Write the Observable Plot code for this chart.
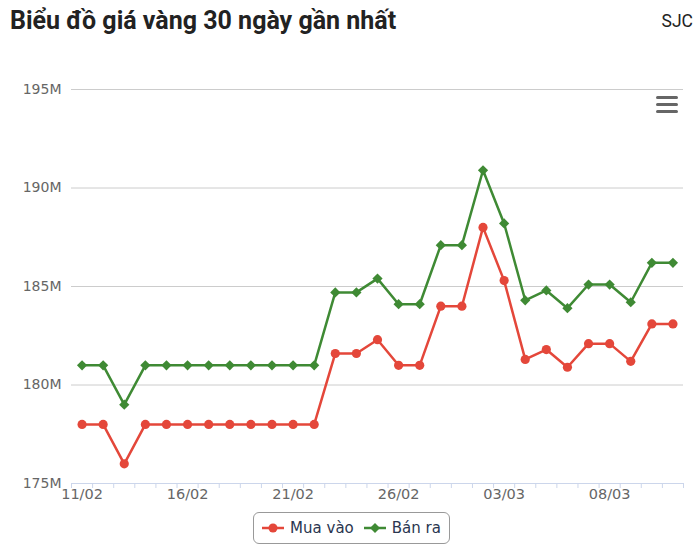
<!DOCTYPE html>
<html>
<head>
<meta charset="utf-8">
<script src="https://cdn.jsdelivr.net/npm/d3@7"></script>
<script src="https://cdn.jsdelivr.net/npm/@observablehq/plot@0.6"></script>
<style>
  html, body { margin: 0; padding: 0; background: #fff; }
  body { width: 700px; height: 555px; position: relative; overflow: hidden; font-family: "DejaVu Sans", sans-serif; }
  #header { position: relative; height: 50px; }
  #title { position: absolute; left: 10px; top: 6px; font-family: Roboto, sans-serif; font-weight: 700; font-size: 25px; line-height: 30px; color: #222; letter-spacing: 0px; }
  #sub { position: absolute; right: 7px; top: 9px; font-family: Roboto, sans-serif; font-size: 17.5px; line-height: 24px; color: #222; }
  #menu { position: absolute; left: 656px; top: 96px; width: 22px; }
  #menu div { height: 3px; background: #666; border-radius: 2px; margin-bottom: 4px; }
  #chart svg { display: block; }
  #legend { position: absolute; left: 253px; top: 512px; width: 195px; height: 30px; border: 1px solid #999; border-radius: 6px; display: flex; align-items: center; justify-content: center; gap: 10px; font-size: 15px; color: #2a3650; }
  .item { display: flex; align-items: center; gap: 6px; }
</style>
</head>
<body>
<div id="header"><div id="title">Biểu đồ giá vàng 30 ngày gần nhất</div><div id="sub">SJC</div></div>
<div id="chart"></div>
<div id="menu"><div></div><div></div><div></div></div>
<div id="legend"></div>
<script>
const dates = ["11/02","12/02","13/02","14/02","15/02","16/02","17/02","18/02","19/02","20/02","21/02","22/02","23/02","24/02","25/02","26/02","27/02","28/02","01/03","02/03","03/03","04/03","05/03","06/03","07/03","08/03","09/03","10/03","11/03"];
const muaVao = [178,178,176,178,178,178,178,178,178,178,178,178,181.6,181.6,182.3,181.0,181.0,184.0,184.0,188.0,185.3,181.3,181.8,180.9,182.1,182.1,181.2,183.1,183.1];
const banRa = [181,181,179,181,181,181,181,181,181,181,181,181,184.7,184.7,185.4,184.1,184.1,187.1,187.1,190.9,188.2,184.3,184.8,183.9,185.1,185.1,184.2,186.2,186.2];
const seriesNames = ["Mua vào", "Bán ra"];
const colors = ["#e4473a", "#3f8a34"];
const yTicks = [175, 180, 185, 190, 195];
const labelEvery = 5;

const idx = dates.map((d, i) => i);
const buy = idx.map(i => ({i, v: muaVao[i]}));
const sell = idx.map(i => ({i, v: banRa[i]}));
const boundaries = d3.range(-0.5, dates.length, 1);
const labelTicks = idx.filter(i => i % labelEvery === 0);

const chart = Plot.plot({
  width: 700,
  height: 455,
  marginLeft: 71,
  marginRight: 17,
  marginTop: 39,
  marginBottom: 22,
  style: {fontFamily: "DejaVu Sans, sans-serif", background: "transparent"},
  x: {type: "linear", domain: [-0.5, dates.length - 0.5]},
  y: {domain: [yTicks[0], yTicks[yTicks.length - 1]]},
  marks: [
    Plot.gridY(yTicks, {stroke: "#cccccc", strokeOpacity: 1, strokeWidth: 1}),
    Plot.axisY(yTicks, {tickSize: 0, tickPadding: 10, tickFormat: d => d + "M", fill: "#666", fontSize: 14, label: null}),
    Plot.ruleY([yTicks[0]], {stroke: "#ccd6eb", strokeWidth: 1}),
    Plot.axisX(boundaries, {tickSize: 5, stroke: "#ccd6eb", tickFormat: () => "", label: null}),
    Plot.axisX(labelTicks, {tickSize: 0, tickPadding: 5, tickFormat: i => dates[i], fill: "#666", fontSize: 14.5, label: null}),
    Plot.line(buy, {x: "i", y: "v", stroke: colors[0], strokeWidth: 2.5}),
    Plot.dot(buy, {x: "i", y: "v", fill: colors[0], r: 4.6, symbol: "circle"}),
    Plot.line(sell, {x: "i", y: "v", stroke: colors[1], strokeWidth: 2.5}),
    Plot.dot(sell, {x: "i", y: "v", fill: colors[1], r: 4.6, symbol: "diamond2"})
  ]
});
document.getElementById("chart").appendChild(chart);

const legend = document.getElementById("legend");
seriesNames.forEach((name, k) => {
  const item = document.createElement("div");
  item.className = "item";
  const marker = k === 0
    ? `<circle cx="11" cy="7" r="4.5" fill="${colors[k]}"/>`
    : `<path d="M11 2 L16 7 L11 12 L6 7 Z" fill="${colors[k]}"/>`;
  item.innerHTML = `<svg width="22" height="14"><line x1="0" x2="22" y1="7" y2="7" stroke="${colors[k]}" stroke-width="2.5"/>${marker}</svg><span>${name}</span>`;
  legend.appendChild(item);
});
</script>
</body>
</html>
